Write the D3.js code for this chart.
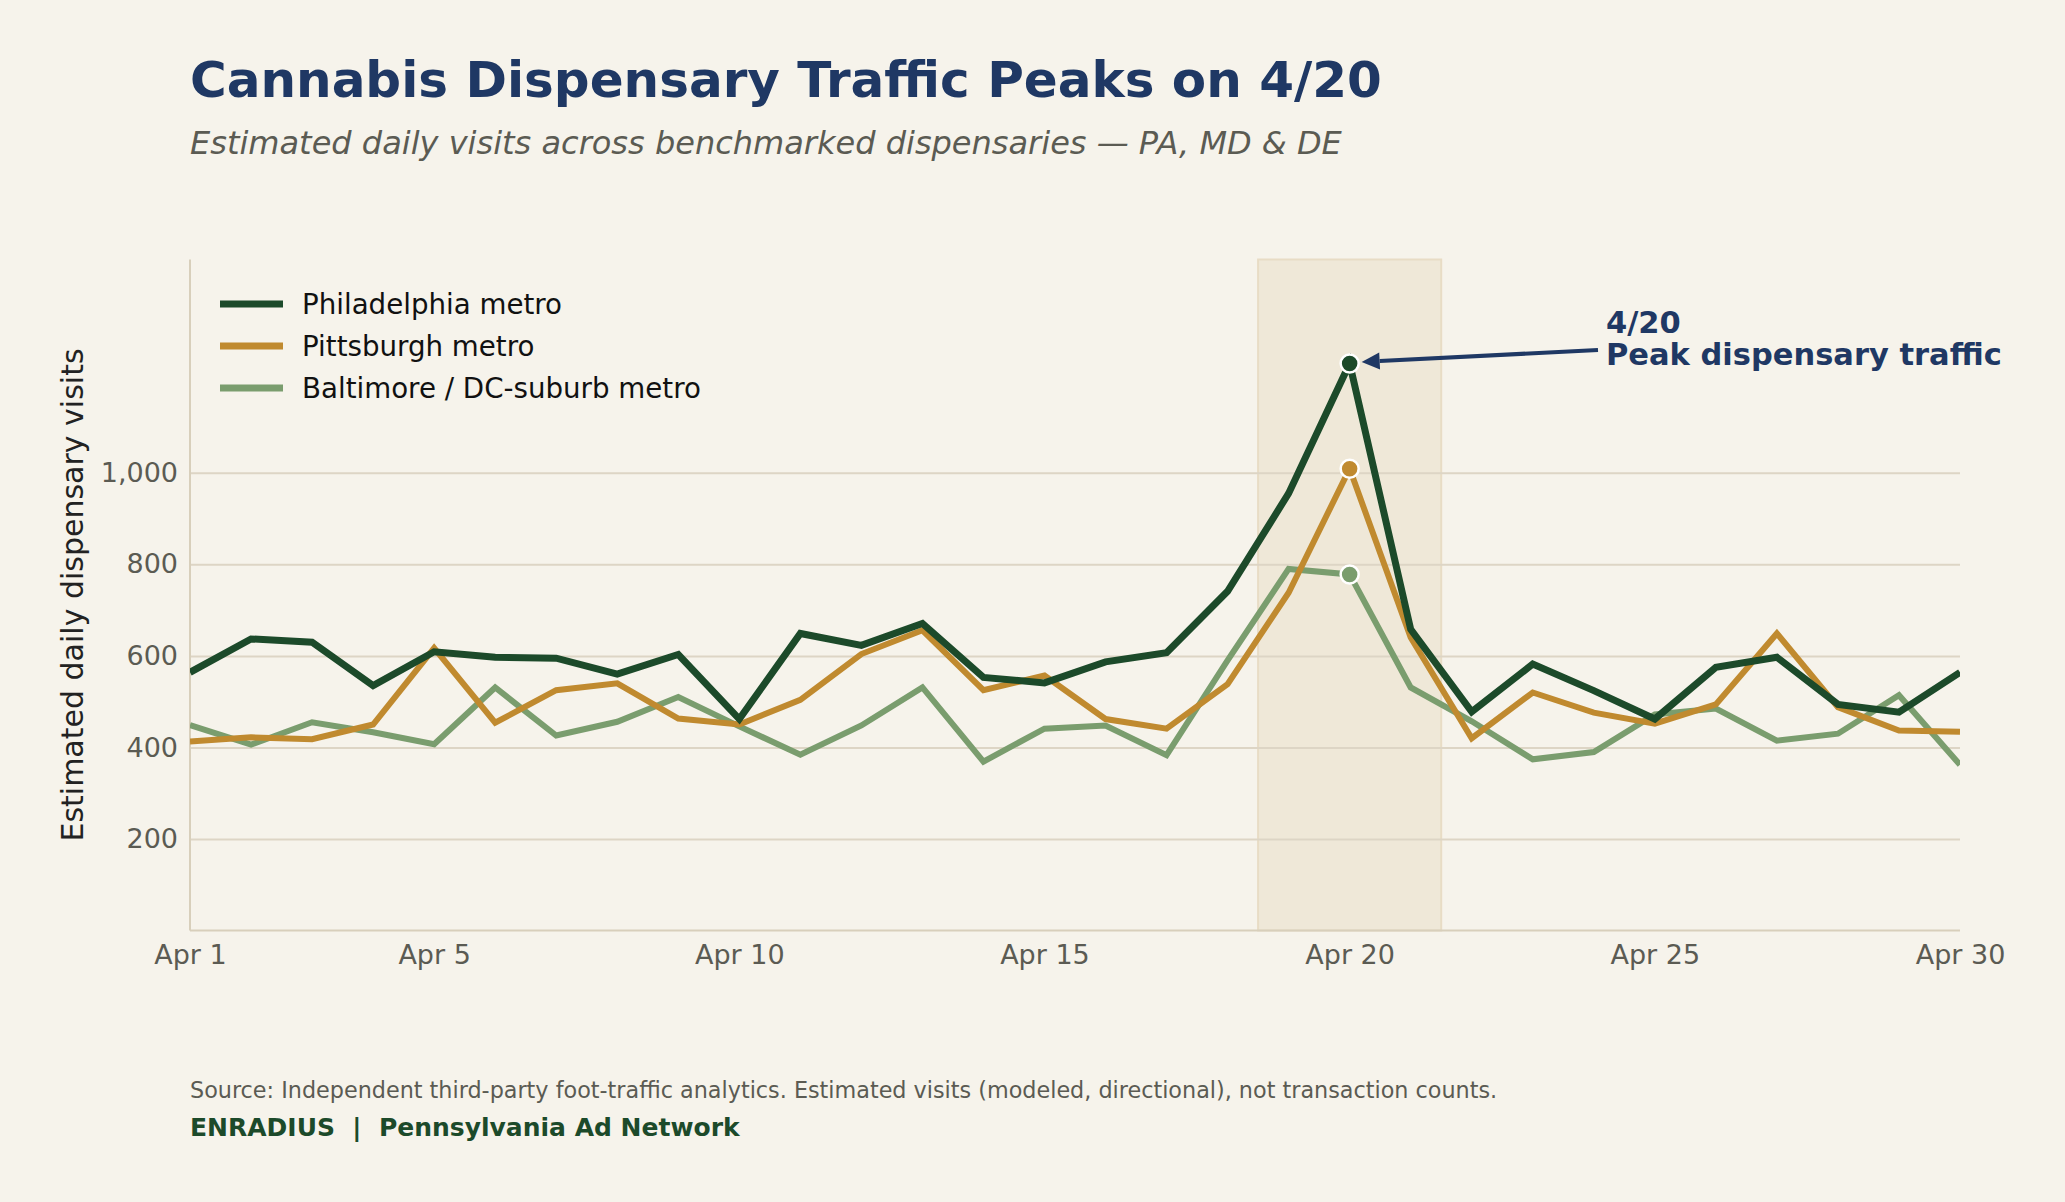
<!DOCTYPE html>
<html>
<head>
<meta charset="utf-8">
<script src="https://cdn.jsdelivr.net/npm/d3@7"></script>
<style>
  html, body { margin: 0; padding: 0; background: #f6f3eb; }
  svg { display: block; font-family: "DejaVu Sans", sans-serif; }
</style>
</head>
<body>
<svg id="chart" width="2065" height="1202"></svg>
<script>
// ---- data ----
const days = [1,2,3,4,5,6,7,8,9,10,11,12,13,14,15,16,17,18,19,20,21,22,23,24,25,26,27,28,29,30];
const philadelphia = [564,637,630,535,609,597,595,560,603,462,649,623,671,553,541,587,607,741,955,1239,658,478,582,524,462,575,597,494,477,564];
const pittsburgh   = [413,422,418,450,617,454,525,540,463,450,504,604,656,525,557,462,441,538,738,1009,640,420,520,476,452,494,649,488,437,434];
const baltimore    = [449,406,455,433,407,531,426,456,510,446,384,448,531,369,441,448,383,590,790,778,531,457,374,390,472,485,415,430,514,362];
const seriesNames  = ["Philadelphia metro","Pittsburgh metro","Baltimore / DC-suburb metro"];
const xTickDays    = [1,5,10,15,20,25,30];
const yTickValues  = [200,400,600,800,1000];
const peakDay = 20;
const spanDays = [18.5, 21.5];
const yMax = 1466;

// ---- layout ----
const svg = d3.select("#chart");
const L = 190, R = 1960, T = 259.5, B = 930.5;
const x = d3.scaleLinear().domain([1, 30]).range([L, R]);
const y = d3.scaleLinear().domain([0, yMax]).range([B, T]);

const colors = ["#1c4a2a", "#c08a2f", "#7a9d6e"];
const widths = [7, 6, 6];
const seriesData = [philadelphia, pittsburgh, baltimore];

svg.append("rect").attr("width", 2065).attr("height", 1202).attr("fill", "#f6f3eb");

// title
svg.append("text").attr("x", 190).attr("y", 97)
  .attr("font-size", 50).attr("font-weight", "bold").attr("fill", "#1f3864")
  .text("Cannabis Dispensary Traffic Peaks on 4/20");
svg.append("text").attr("x", 190).attr("y", 154)
  .attr("font-size", 32).attr("font-style", "italic").attr("fill", "#5b5b53")
  .text("Estimated daily visits across benchmarked dispensaries \u2014 PA, MD & DE");

// shaded span
svg.append("rect")
  .attr("x", x(spanDays[0])).attr("y", T)
  .attr("width", x(spanDays[1]) - x(spanDays[0])).attr("height", B - T)
  .attr("fill", "#efe8d8").attr("stroke", "#e8dcc5").attr("stroke-width", 2);

// gridlines
const yAxis = d3.axisLeft(y).tickValues(yTickValues).tickSize(-(R - L)).tickPadding(12)
  .tickFormat(d3.format(","));
const gy = svg.append("g").attr("transform", `translate(${L},0)`).call(yAxis);
gy.select(".domain").remove();
gy.selectAll(".tick line").attr("stroke", "#ddd5c5").attr("stroke-width", 2);
gy.selectAll(".tick text").attr("font-size", 27).attr("fill", "#5b5b53")
  .attr("font-family", "DejaVu Sans, sans-serif");

// x axis
const xAxis = d3.axisBottom(x).tickValues(xTickDays).tickSize(0).tickPadding(14)
  .tickFormat(d => "Apr " + d);
const gx = svg.append("g").attr("transform", `translate(0,${B})`).call(xAxis);
gx.select(".domain").remove();
gx.selectAll(".tick text").attr("font-size", 27).attr("fill", "#5b5b53")
  .attr("font-family", "DejaVu Sans, sans-serif");

// spines
svg.append("line").attr("x1", L).attr("x2", L).attr("y1", T).attr("y2", B)
  .attr("stroke", "#d8cfbb").attr("stroke-width", 2);
svg.append("line").attr("x1", L).attr("x2", R).attr("y1", B).attr("y2", B)
  .attr("stroke", "#d8cfbb").attr("stroke-width", 2);

// clip
svg.append("clipPath").attr("id", "plotclip").append("rect")
  .attr("x", L).attr("y", T).attr("width", R - L).attr("height", B - T);

const line = d3.line().x((d, i) => x(days[i])).y(d => y(d));
const gl = svg.append("g").attr("clip-path", "url(#plotclip)");
[2, 1, 0].forEach(k => {
  gl.append("path").datum(seriesData[k]).attr("d", line)
    .attr("fill", "none").attr("stroke", colors[k]).attr("stroke-width", widths[k])
    .attr("stroke-linejoin", "miter").attr("stroke-linecap", "butt");
});

// markers at peak day
const pi = days.indexOf(peakDay);
[2, 1, 0].forEach(k => {
  svg.append("circle").attr("cx", x(peakDay)).attr("cy", y(seriesData[k][pi])).attr("r", 9)
    .attr("fill", colors[k]).attr("stroke", "#ffffff").attr("stroke-width", 2.5);
});

// annotation
const navy = "#1f3864";
const tx = 1606, ty1 = 333, ty2 = 365;
svg.append("text").attr("x", tx).attr("y", ty1).attr("font-size", 30.5).attr("font-weight", "bold")
  .attr("fill", navy).text("4/20");
svg.append("text").attr("x", tx).attr("y", ty2).attr("font-size", 30.5).attr("font-weight", "bold")
  .attr("fill", navy).text("Peak dispensary traffic");
const ax0 = 1598, ay0 = 350;
const ax1 = x(peakDay) + 12, ay1 = y(philadelphia[pi]) - 1.5;
const ang = Math.atan2(ay1 - ay0, ax1 - ax0);
const hl = 18, hw = 8.5;
const bx = ax1 - hl * Math.cos(ang), by = ay1 - hl * Math.sin(ang);
svg.append("line").attr("x1", ax0).attr("y1", ay0).attr("x2", bx).attr("y2", by)
  .attr("stroke", navy).attr("stroke-width", 4);
svg.append("path").attr("d", `M${ax1},${ay1} L${bx + hw * Math.sin(ang)},${by - hw * Math.cos(ang)} L${bx - hw * Math.sin(ang)},${by + hw * Math.cos(ang)} Z`)
  .attr("fill", navy);

// legend
const lg = svg.append("g");
seriesNames.forEach((name, k) => {
  const yy = 304 + k * 42;
  lg.append("line").attr("x1", 220).attr("x2", 283).attr("y1", yy).attr("y2", yy)
    .attr("stroke", colors[k]).attr("stroke-width", 7);
  lg.append("text").attr("x", 302).attr("y", yy + 10).attr("font-size", 27.7).attr("fill", "#111")
    .text(name);
});

// y label
svg.append("text").attr("transform", `translate(83,${(T + B) / 2}) rotate(-90)`)
  .attr("text-anchor", "middle").attr("font-size", 30).attr("fill", "#222")
  .text("Estimated daily dispensary visits");

// footer
svg.append("text").attr("x", 190).attr("y", 1098).attr("font-size", 22.3).attr("fill", "#5b5b53")
  .text("Source: Independent third-party foot-traffic analytics. Estimated visits (modeled, directional), not transaction counts.");
svg.append("text").attr("x", 190).attr("y", 1136).attr("font-size", 25).attr("font-weight", "bold")
  .attr("fill", "#1c4a2a").attr("xml:space", "preserve").style("white-space", "pre")
  .text("ENRADIUS  |  Pennsylvania Ad Network");
</script>
</body>
</html>
